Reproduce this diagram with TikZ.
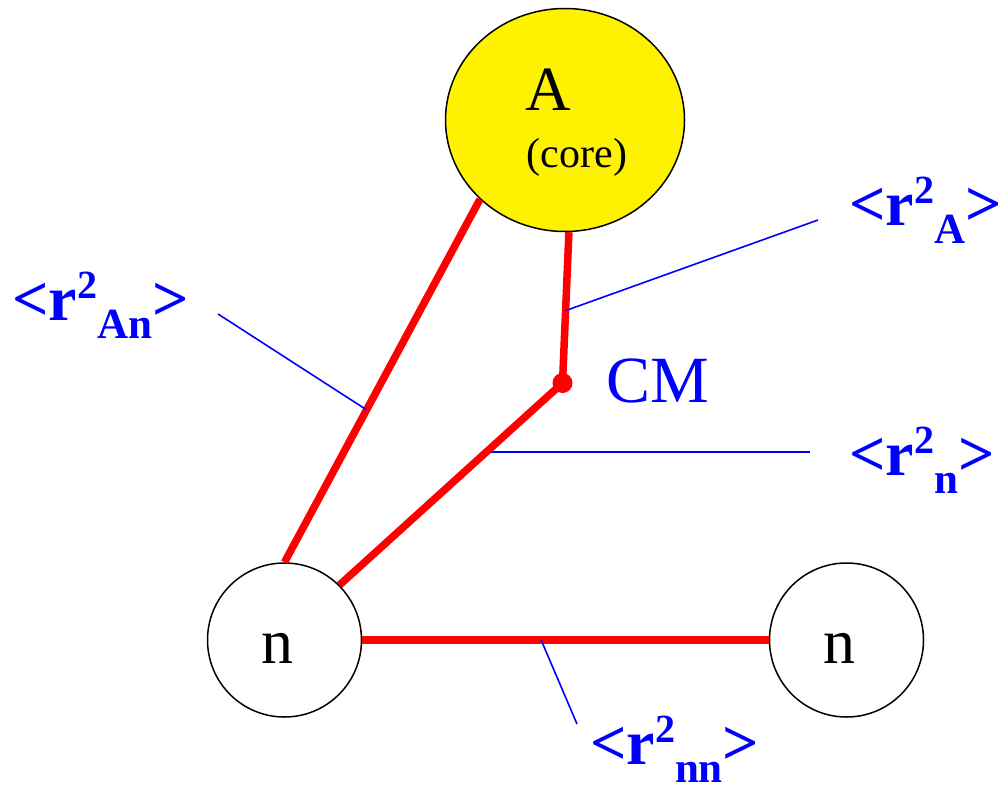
\documentclass[tikz,border=0pt]{standalone}
\usepackage{fontspec}
\setmainfont{Liberation Serif}
\usetikzlibrary{shapes.geometric}
\newcommand\rsqlabel[1]{{\bfseries\fontsize{64}{64}\selectfont <r\raisebox{22pt}{\fontsize{40}{40}\selectfont 2}\raisebox{-18pt}{\fontsize{43}{43}\selectfont #1}>}}
\tikzset{
  redline/.style={draw=red, line width=7.5pt},
  leader/.style={draw=blue, line width=1.6pt},
  particle/.style={circle, draw=black, line width=1.5pt, minimum size=154pt, inner sep=0pt},
  lbl/.style={text=blue, anchor=base west, inner sep=0pt},
  plain/.style={anchor=base, inner sep=0pt}
}
\begin{document}
\begin{tikzpicture}[x=1pt,y=-1pt]
\useasboundingbox (0,0) rectangle (1000,792);
% core
\node[ellipse, draw=black, line width=1.5pt, fill=yellow, minimum width=239pt, minimum height=223pt, inner sep=0pt] (A) at (565,120) {};
\node[plain] (Atext) at (548,110) {\fontsize{63}{63}\selectfont A};
\node[plain] (coretext) at (577,167) {\fontsize{42}{42}\selectfont (core)};
% neutrons
\node[particle] (n1) at (284.5,640) {};
\node[plain] (n1text) at (277,663) {\fontsize{64}{64}\selectfont n};
\node[particle] (n2) at (846.5,640) {};
\node[plain] (n2text) at (839,663) {\fontsize{64}{64}\selectfont n};
% CM
\node[circle, fill=red, minimum size=20pt, inner sep=0pt] (cm) at (562.5,383) {};
\node[lbl] (cmtext) at (606,402) {\fontsize{66}{66}\selectfont CM};
% red connectors
\draw[redline] (A.223) -- (n1.north) coordinate[pos=0.58] (pAn);
\draw[redline] (A.272) -- (cm.center) coordinate[pos=0.52] (pA);
\draw[redline] (cm.center) -- (n1.45) coordinate[pos=0.32] (pn);
\draw[redline] (n1.east) -- (n2.west) coordinate[pos=0.44] (pnn);
% labels
\node[lbl] (lAn) at (12,320) {\rsqlabel{An}};
\node[lbl] (lA) at (849,225) {\rsqlabel{A}};
\node[lbl] (ln) at (849,475) {\rsqlabel{n}};
\node[lbl] (lnn) at (590,764) {\rsqlabel{nn}};
% leader ends
\coordinate (eAn) at (218,314);
\coordinate (eA) at (818,220);
\coordinate (en) at (810,452);
\coordinate (enn) at (577,724);
\draw[leader] (eAn) -- (pAn);
\draw[leader] (eA) -- (pA);
\draw[leader] (en) -- (pn |- en);
\draw[leader] (enn) -- (pnn);
\end{tikzpicture}
\end{document}
